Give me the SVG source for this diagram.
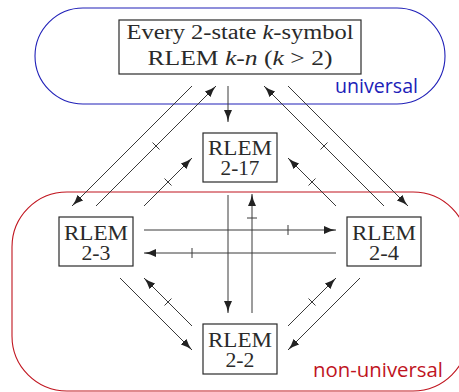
<svg xmlns="http://www.w3.org/2000/svg" width="459" height="392" viewBox="0 0 459 392">
<style>
.box{fill:#fff;stroke:#2a2a2a;stroke-width:1.2}
.t{font-family:"Liberation Serif","Times New Roman",serif;font-size:20px;fill:#2a2a2a;text-anchor:middle}
.it{font-style:italic}
.c{fill:none;stroke:#3a3a3a;stroke-width:1}
.a{marker-end:url(#ah)}
.lbl{font-family:"Open Sans","Noto Sans",sans-serif;font-size:20.5px}
</style>
<defs>
<marker id="ah" viewBox="0 0 12 8" refX="12" refY="4" markerWidth="12" markerHeight="8" orient="auto" markerUnits="userSpaceOnUse">
<path d="M0,0 Q5.5,3 12,4 Q5.5,5 0,8 Z" fill="#222"/>
</marker>
</defs>
<g id="region-universal">
<rect x="35" y="8" width="410" height="96" rx="48" ry="48" fill="none" stroke="#2020b8" stroke-width="1.1"/>
<text class="lbl" x="335" y="93" fill="#2020b8" textLength="83" lengthAdjust="spacingAndGlyphs">universal</text>
</g>
<g id="region-non-universal">
<rect x="12" y="192" width="456" height="199" rx="55" ry="55" fill="none" stroke="#c0141e" stroke-width="1.1"/>
<text class="lbl" x="313" y="377" fill="#c0141e" textLength="130" lengthAdjust="spacingAndGlyphs">non-universal</text>
</g>
<g id="connectors">
<path class="c a" d="M192,86 L72,206"/>
<path class="c a" d="M96,206 L216,86"/>
<path class="c" d="M152.5,142.5 L159.5,149.5"/>
<path class="c a" d="M144,206 L192,158"/>
<path class="c" d="M164.5,178.5 L171.5,185.5"/>
<path class="c a" d="M228,86 L228,122"/>
<path class="c a" d="M384,206 L264,86"/>
<path class="c" d="M320.5,149.5 L327.5,142.5"/>
<path class="c a" d="M288,86 L408,206"/>
<path class="c a" d="M336,206 L288,158"/>
<path class="c" d="M308.5,185.5 L315.5,178.5"/>
<path class="c a" d="M144,230 L336,230"/>
<path class="c" d="M288,225 L288,235"/>
<path class="c a" d="M336,253 L144,253"/>
<path class="c" d="M192,248 L192,258"/>
<path class="c a" d="M228,195 L228,313"/>
<path class="c a" d="M252,313 L252,194"/>
<path class="c" d="M247,218 L257,218"/>
<path class="c a" d="M120,278 L192,350"/>
<path class="c a" d="M192,326 L144,278"/>
<path class="c" d="M164.5,305.5 L171.5,298.5"/>
<path class="c a" d="M288,326 L336,278"/>
<path class="c" d="M308.5,298.5 L315.5,305.5"/>
<path class="c a" d="M360,278 L288,350"/>
</g>
<g id="node-universal">
<rect class="box" x="119" y="20" width="242" height="54"/>
<text class="t" x="240" y="38.5" textLength="227" lengthAdjust="spacingAndGlyphs">Every 2-state <tspan class="it">k</tspan>-symbol</text>
<text class="t" x="240" y="65" textLength="185" lengthAdjust="spacingAndGlyphs">RLEM <tspan class="it">k</tspan>-<tspan class="it">n</tspan> (<tspan class="it">k</tspan> &gt; 2)</text>
</g>
<g id="node-2-17">
<rect class="box" x="203" y="133" width="74" height="49"/>
<text class="t" x="240" y="155" textLength="64" lengthAdjust="spacingAndGlyphs">RLEM</text>
<text class="t" x="240" y="175" textLength="39" lengthAdjust="spacingAndGlyphs">2-17</text>
</g>
<g id="node-2-3">
<rect class="box" x="59" y="217" width="74" height="49"/>
<text class="t" x="96" y="239.5" textLength="64" lengthAdjust="spacingAndGlyphs">RLEM</text>
<text class="t" x="96" y="259.5" textLength="29" lengthAdjust="spacingAndGlyphs">2-3</text>
</g>
<g id="node-2-4">
<rect class="box" x="347" y="217" width="74" height="49"/>
<text class="t" x="384" y="239.5" textLength="64" lengthAdjust="spacingAndGlyphs">RLEM</text>
<text class="t" x="384" y="259.5" textLength="30" lengthAdjust="spacingAndGlyphs">2-4</text>
</g>
<g id="node-2-2">
<rect class="box" x="203" y="324" width="74" height="50"/>
<text class="t" x="240" y="346.5" textLength="64" lengthAdjust="spacingAndGlyphs">RLEM</text>
<text class="t" x="240" y="367" textLength="29" lengthAdjust="spacingAndGlyphs">2-2</text>
</g>
</svg>
